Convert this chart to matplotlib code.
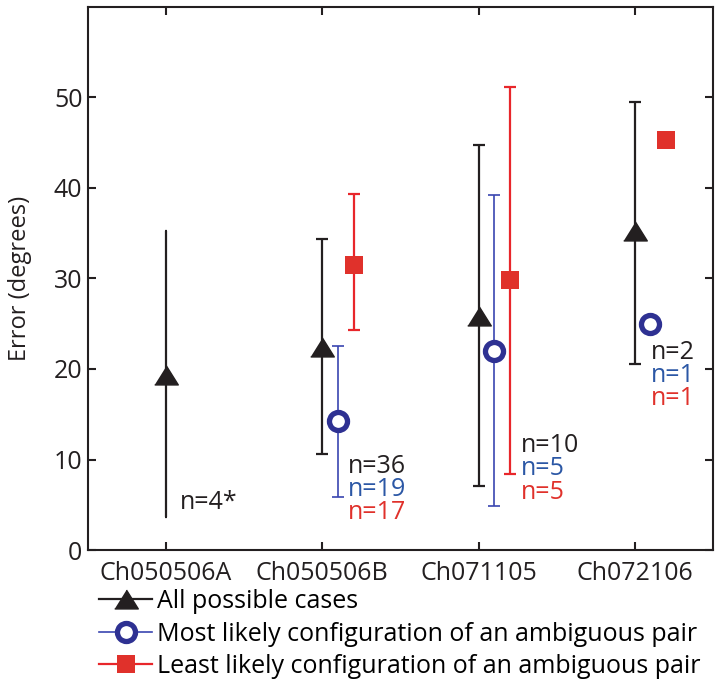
import numpy as np
import matplotlib
matplotlib.use("Agg")
import matplotlib.pyplot as plt
from matplotlib.lines import Line2D

plt.rcParams["font.family"] = ["Open Sans", "DejaVu Sans"]

# --- data ---
groups = ["Ch050506A", "Ch050506B", "Ch071105", "Ch072106"]

all_mean = [19.3, 22.4, 25.9, 35.2]
all_lo = [3.7, 10.6, 7.1, 20.6]
all_hi = [35.2, 34.4, 44.7, 49.5]

most_mean = [np.nan, 14.3, 22.0, 25.0]
most_lo = [np.nan, 5.9, 4.9, 25.0]
most_hi = [np.nan, 22.5, 39.2, 25.0]

least_mean = [np.nan, 31.5, 29.8, 45.3]
least_lo = [np.nan, 24.3, 8.4, 45.3]
least_hi = [np.nan, 39.3, 51.2, 45.3]

n_all = ["n=4*", "n=36", "n=10", "n=2"]
n_most = ["", "n=19", "n=5", "n=1"]
n_least = ["", "n=17", "n=5", "n=1"]

labels = [
    "All possible cases",
    "Most likely configuration of an ambiguous pair",
    "Least likely configuration of an ambiguous pair",
]

BLACK = "#231f20"
BLUE = "#2e3192"
BLUE_LINE = "#3a45b0"
BLUE_TXT = "#2b57a5"
RED = "#e0312b"
RED_LINE = "#e8262b"

# where the n= labels start (data coords)
n_pos = [(1.09, 5.2), (2.165, 9.2), (3.27, 11.5), (4.10, 21.8)]

FS = 18

fig = plt.figure(figsize=(7.2, 6.85), dpi=100)
ax = fig.add_axes([0.1222, 0.197, 0.868, 0.793])

x = np.arange(1, len(groups) + 1)
tri = [(-1, -0.8), (1, -0.8), (0, 0.8)]


def yerr(mean, lo, hi):
    mean, lo, hi = map(np.asarray, (mean, lo, hi))
    return np.vstack([mean - lo, hi - mean])


# black: all possible cases (first group has tiny caps)
for i in range(len(groups)):
    ax.errorbar(
        x[i], all_mean[i], yerr=yerr(all_mean, all_lo, all_hi)[:, i:i + 1],
        fmt="none", ecolor=BLACK, elinewidth=1.6, capsize=1 if i == 0 else 4,
        capthick=1.6, zorder=2,
    )
ax.plot(x, all_mean, linestyle="none", marker=tri, markersize=17,
        color=BLACK, zorder=3)

# blue: most likely configuration
ax.errorbar(x + 0.1, most_mean, yerr=yerr(most_mean, most_lo, most_hi),
            fmt="none", ecolor=BLUE_LINE, elinewidth=1.2, capsize=4,
            capthick=1.2, zorder=2)
ax.plot(x + 0.1, most_mean, linestyle="none", marker="o", markersize=13,
        markerfacecolor="white", markeredgecolor=BLUE, markeredgewidth=3.8,
        zorder=3)

# red: least likely configuration
ax.errorbar(x + 0.2, least_mean, yerr=yerr(least_mean, least_lo, least_hi),
            fmt="none", ecolor=RED_LINE, elinewidth=1.6, capsize=4,
            capthick=1.6, zorder=2)
ax.plot(x + 0.2, least_mean, linestyle="none", marker="s", markersize=13,
        color=RED, markeredgewidth=0, zorder=3)

# n= annotations
for i, (px, py) in enumerate(n_pos):
    for j, (txt, col) in enumerate(zip([n_all[i], n_most[i], n_least[i]],
                                       [BLACK, BLUE_TXT, RED])):
        if txt:
            ax.annotate(txt, (px, py), xytext=(0, -16.6 * j),
                        textcoords="offset points", ha="left", va="center",
                        fontsize=FS, color=col)

ax.set_xlim(0.5, 4.5)
ax.set_ylim(0, 60)
ax.set_xticks(x)
ax.set_xticklabels(groups)
ax.set_yticks([0, 10, 20, 30, 40, 50])
ax.set_ylabel("Error (degrees)", fontsize=17, color=BLACK, labelpad=16)
ax.tick_params(direction="in", top=True, right=True, length=6, width=1.5,
               labelsize=FS, colors=BLACK)
ax.tick_params(axis="x", pad=8)
ax.tick_params(axis="y", pad=4)
for sp in ax.spines.values():
    sp.set_linewidth(1.5)
    sp.set_color(BLACK)

handles = [
    Line2D([], [], color=BLACK, lw=1.6, marker=tri, markersize=17),
    Line2D([], [], color=BLUE_LINE, lw=1.2, marker="o", markersize=13,
           markerfacecolor="white", markeredgecolor=BLUE, markeredgewidth=3.8),
    Line2D([], [], color=RED_LINE, lw=1.6, marker="s", markersize=13,
           markerfacecolor=RED, markeredgewidth=0),
]
fig.legend(handles, labels, loc="upper left", bbox_to_anchor=(0.138, 0.14),
           frameon=False, fontsize=FS, handlelength=2.1, handletextpad=0.2,
           labelspacing=0.3, borderpad=0, borderaxespad=0)

fig.savefig("out.png", dpi=100)
